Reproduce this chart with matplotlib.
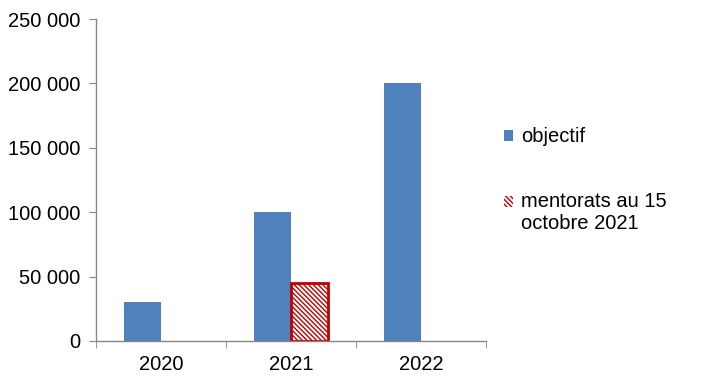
import matplotlib
matplotlib.use("Agg")
import matplotlib.pyplot as plt
import numpy as np
from matplotlib.patches import Patch, Rectangle
from matplotlib.legend_handler import HandlerPatch

categories = ["2020", "2021", "2022"]
objectif = [30000, 100000, 200000]
mentorats = [None, 45000, None]
labels = ["objectif", "mentorats au 15\noctobre 2021"]
yticks = [0, 50000, 100000, 150000, 200000, 250000]

plt.rcParams['font.family'] = ['Liberation Sans', 'DejaVu Sans']
plt.rcParams['hatch.color'] = '#C00000'
plt.rcParams['hatch.linewidth'] = 1.0

FS = 14.5
fig = plt.figure(figsize=(7.19, 3.83), dpi=100)
ax = fig.add_axes([96/719, 42/383, 390/719, 322/383])

blue = '#4F81BD'
red = '#C00000'
gray = '#868686'
w = 0.285
x = np.arange(len(categories))
ax.bar(x - w/2, objectif, width=w, color=blue, label=labels[0])
mx = [xi + w/2 for xi, v in zip(x, mentorats) if v is not None]
mv = [v for v in mentorats if v is not None]
ax.bar(mx, mv, width=w, facecolor='white', edgecolor=red, linewidth=2,
       hatch='\\' * 7, label=labels[1])

ax.set_xlim(-0.5, len(categories) - 0.5)
ax.set_ylim(0, 250000)
ax.set_yticks(yticks)
ax.set_yticklabels([f"{v:,}".replace(",", " ") for v in yticks], fontsize=FS)
ax.set_xticks(x)
ax.set_xticklabels(categories, fontsize=FS)
ax.tick_params(axis='x', length=0, pad=10)
ax.set_xticks(np.arange(-0.5, len(categories)), minor=True)
ax.tick_params(axis='x', which='minor', length=5, color=gray, direction='out')
ax.tick_params(axis='y', length=5, color=gray, direction='out', pad=6)
for s in ['top', 'right']:
    ax.spines[s].set_visible(False)
for s in ['left', 'bottom']:
    ax.spines[s].set_color(gray)
    ax.spines[s].set_linewidth(1)


def top_patch(legend, orig_handle, xdescent, ydescent, width, height, fontsize):
    return Rectangle((-xdescent, -ydescent + 0.55 * fontsize), width, height)


h1 = Patch(facecolor=blue, edgecolor='none')
h2 = Patch(facecolor='white', edgecolor=red, linewidth=0, hatch='\\' * 7)
HL = 0.45
common = dict(frameon=False, fontsize=FS, handlelength=HL, handleheight=HL,
              handletextpad=0.4, borderpad=0, borderaxespad=0)
leg1 = fig.legend([h1], [labels[0]], loc='center left',
                  bbox_to_anchor=(504/719, 1 - 137/383), **common)
leg2 = fig.legend([h2], [labels[1]], loc='upper left',
                  bbox_to_anchor=(504/719, 1 - 192/383),
                  handler_map={Patch: HandlerPatch(patch_func=top_patch)}, **common)

fig.savefig("out.png", dpi=100)
